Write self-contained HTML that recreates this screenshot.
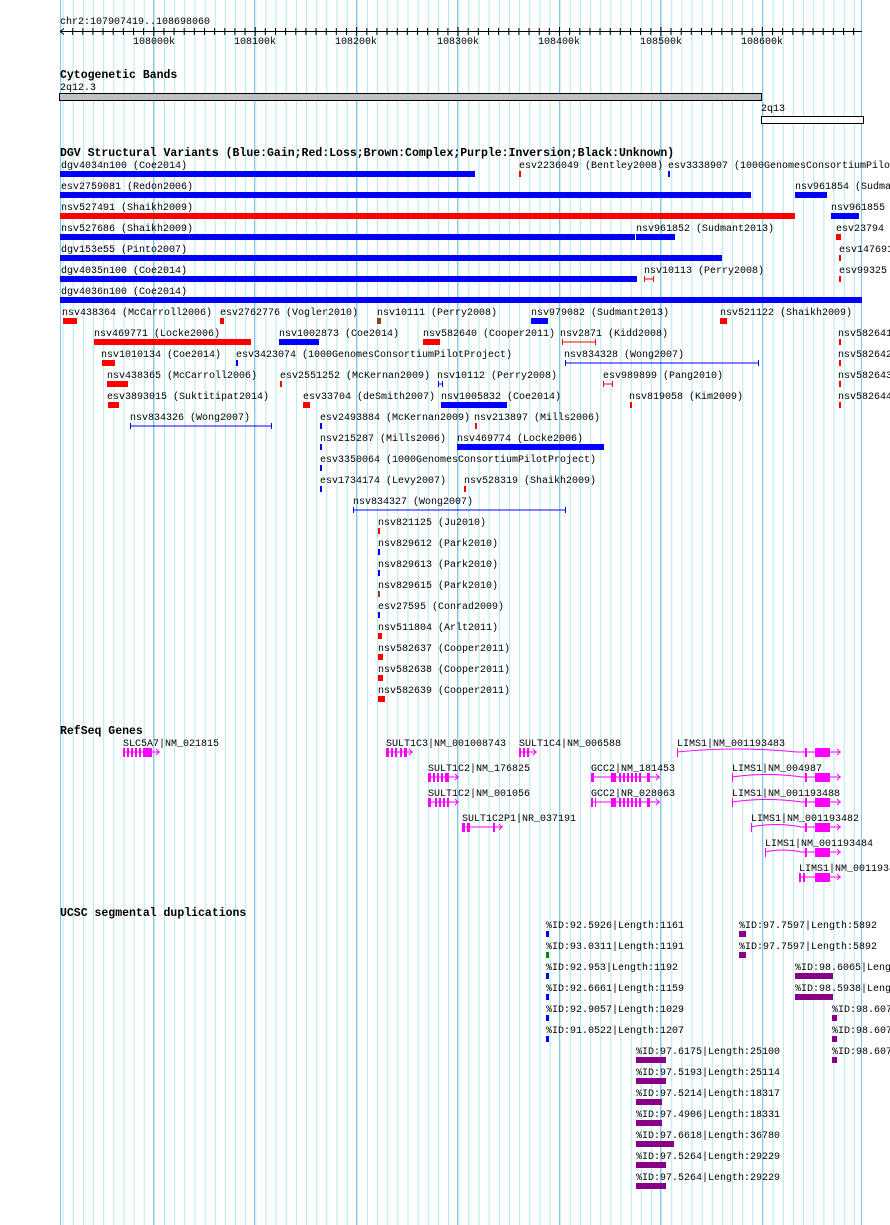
<!DOCTYPE html>
<html><head><meta charset="utf-8"><style>
html,body{margin:0;padding:0;background:#fff;}
svg{display:block;}
text{font-family:"Liberation Mono",monospace;font-size:10px;fill:#000;}
.h{font-weight:bold;font-size:11.5px;}
</style></head><body>
<svg width="890" height="1225" xmlns="http://www.w3.org/2000/svg">
<defs>
<pattern id="g" x="62.6" y="0" width="10.144" height="1225" patternUnits="userSpaceOnUse">
<rect x="0" y="0" width="1" height="1225" fill="#b4e8ee"/>
</pattern>
</defs>
<rect x="60" y="0" width="802" height="1225" fill="url(#g)"/>
<g fill="#8cc6e6">
<rect x="60" y="0" width="1" height="1225"/>
<rect x="153" y="0" width="1" height="1225"/><rect x="254" y="0" width="1" height="1225"/>
<rect x="356" y="0" width="1" height="1225"/><rect x="457" y="0" width="1" height="1225"/>
<rect x="559" y="0" width="1" height="1225"/><rect x="660" y="0" width="1" height="1225"/>
<rect x="762" y="0" width="1" height="1225"/><rect x="861" y="0" width="1" height="1225"/>
</g>
<!-- ruler -->
<text x="60" y="24">chr2:107907419..108698060</text>
<line x1="60" y1="31.5" x2="862" y2="31.5" stroke="#000"/>
<path d="M60 31.5 l4 -3 M60 31.5 l4 3" stroke="#000"/>
<g stroke="#000">
<path d="M72.7 28v7M82.8 28v7M92.9 28v7M103 28v7M113.2 28v7M123.3 28v7M133.5 28v7M143.6 28v7M153.8 27v9M163.9 28v7M174 28v7M184.2 28v7M194.3 28v7M204.5 28v7M214.6 28v7M224.8 28v7M234.9 28v7M245 28v7M255.2 27v9M265.3 28v7M275.5 28v7M285.6 28v7M295.8 28v7M305.9 28v7M316 28v7M326.2 28v7M336.3 28v7M346.5 28v7M356.6 27v9M366.8 28v7M376.9 28v7M387 28v7M397.2 28v7M407.3 28v7M417.5 28v7M427.6 28v7M437.8 28v7M447.9 28v7M458 27v9M468.2 28v7M478.3 28v7M488.5 28v7M498.6 28v7M508.8 28v7M518.9 28v7M529 28v7M539.2 28v7M549.3 28v7M559.5 27v9M569.6 28v7M579.8 28v7M589.9 28v7M600 28v7M610.2 28v7M620.3 28v7M630.5 28v7M640.6 28v7M650.8 28v7M660.9 27v9M671 28v7M681.2 28v7M691.3 28v7M701.5 28v7M711.6 28v7M721.8 28v7M731.9 28v7M742 28v7M752.2 28v7M762.3 27v9M772.5 28v7M782.6 28v7M792.8 28v7M802.9 28v7M813 28v7M823.2 28v7M833.3 28v7M843.5 28v7M853.6 28v7"/>
</g>
<text x="133" y="44">108000k</text><text x="234" y="44">108100k</text><text x="335" y="44">108200k</text>
<text x="437" y="44">108300k</text><text x="538" y="44">108400k</text><text x="640" y="44">108500k</text><text x="741" y="44">108600k</text>
<!-- cytobands -->
<text class="h" x="60" y="78">Cytogenetic Bands</text>
<text x="60" y="90">2q12.3</text>
<rect x="59.5" y="93.5" width="702" height="7" fill="#c0c0c0" stroke="#000"/>
<text x="761" y="111">2q13</text>
<rect x="761.5" y="116.5" width="102" height="7" fill="#fff" stroke="#000"/>
<!-- DGV -->
<text class="h" x="60" y="156">DGV Structural Variants (Blue:Gain;Red:Loss;Brown:Complex;Purple:Inversion;Black:Unknown)</text>
<g>
<text x="61" y="168">dgv4034n100 (Coe2014)</text><rect x="60" y="171" width="415" height="6" fill="#00f"/>
<text x="519" y="168">esv2236049 (Bentley2008)</text><rect x="519" y="171" width="2" height="6" fill="#f00"/>
<text x="668" y="168">esv3338907 (1000GenomesConsortiumPilotProject)</text><rect x="668" y="171" width="2" height="6" fill="#00f"/>

<text x="61" y="189">esv2759081 (Redon2006)</text><rect x="60" y="192" width="691" height="6" fill="#00f"/>
<text x="795" y="189">nsv961854 (Sudmant2013)</text><rect x="795" y="192" width="32" height="6" fill="#00f"/>

<text x="61" y="210">nsv527491 (Shaikh2009)</text><rect x="60" y="213" width="735" height="6" fill="#f00"/>
<text x="831" y="210">nsv961855 (Sudmant2013)</text><rect x="831" y="213" width="28" height="6" fill="#00f"/>

<text x="61" y="231">nsv527686 (Shaikh2009)</text><rect x="60" y="234" width="575" height="6" fill="#00f"/>
<text x="636" y="231">nsv961852 (Sudmant2013)</text><rect x="636" y="234" width="39" height="6" fill="#00f"/>
<text x="836" y="231">esv23794</text><rect x="836" y="234" width="5" height="6" fill="#f00"/>

<text x="61" y="252">dgv153e55 (Pinto2007)</text><rect x="60" y="255" width="662" height="6" fill="#00f"/>
<text x="839" y="252">esv147691</text><rect x="839" y="255" width="2" height="6" fill="#f00"/>

<text x="61" y="273">dgv4035n100 (Coe2014)</text><rect x="60" y="276" width="577" height="6" fill="#00f"/>
<text x="644" y="273">nsv10113 (Perry2008)</text><path d="M644.5 276v6M653.5 276v6M644 279h10" stroke="#f00"/>
<text x="839" y="273">esv99325</text><rect x="839" y="276" width="2" height="6" fill="#f00"/>

<text x="61" y="294">dgv4036n100 (Coe2014)</text><rect x="60" y="297" width="802" height="6" fill="#00f"/>

<text x="62" y="315">nsv438364 (McCarroll2006)</text><rect x="63" y="318" width="14" height="6" fill="#f00"/>
<text x="220" y="315">esv2762776 (Vogler2010)</text><rect x="220" y="318" width="4" height="6" fill="#f00"/>
<text x="377" y="315">nsv10111 (Perry2008)</text><rect x="377" y="318" width="4" height="6" fill="#8b4513"/>
<text x="531" y="315">nsv979082 (Sudmant2013)</text><rect x="531" y="318" width="17" height="6" fill="#00f"/>
<text x="720" y="315">nsv521122 (Shaikh2009)</text><rect x="720" y="318" width="7" height="6" fill="#f00"/>

<text x="94" y="336">nsv469771 (Locke2006)</text><rect x="94" y="339" width="157" height="6" fill="#f00"/>
<text x="279" y="336">nsv1002873 (Coe2014)</text><rect x="279" y="339" width="40" height="6" fill="#00f"/>
<text x="423" y="336">nsv582640 (Cooper2011)</text><rect x="423" y="339" width="17" height="6" fill="#f00"/>
<text x="560" y="336">nsv2871 (Kidd2008)</text><path d="M562.5 339v6M595.5 339v6M562 342h34" stroke="#f00"/>
<text x="838" y="336">nsv582641</text><rect x="839" y="339" width="2" height="6" fill="#f00"/>

<text x="101" y="357">nsv1010134 (Coe2014)</text><rect x="102" y="360" width="13" height="6" fill="#f00"/>
<text x="236" y="357">esv3423074 (1000GenomesConsortiumPilotProject)</text><rect x="236" y="360" width="2" height="6" fill="#00f"/>
<text x="564" y="357">nsv834328 (Wong2007)</text><path d="M565.5 360v6M758.5 360v6M565 363h194" stroke="#00f"/>
<text x="838" y="357">nsv582642</text><rect x="839" y="360" width="2" height="6" fill="#f00"/>

<text x="107" y="378">nsv438365 (McCarroll2006)</text><rect x="107" y="381" width="21" height="6" fill="#f00"/>
<text x="280" y="378">esv2551252 (McKernan2009)</text><rect x="280" y="381" width="2" height="6" fill="#f00"/>
<text x="437" y="378">nsv10112 (Perry2008)</text><path d="M438.5 381v6M442.5 381v6M438 384h5" stroke="#00f"/>
<text x="603" y="378">esv989899 (Pang2010)</text><path d="M603.5 381v6M612.5 381v6M603 384h10" stroke="#f00"/>
<text x="838" y="378">nsv582643</text><rect x="839" y="381" width="2" height="6" fill="#f00"/>

<text x="107" y="399">esv3893015 (Suktitipat2014)</text><rect x="108" y="402" width="11" height="6" fill="#f00"/>
<text x="303" y="399">esv33704 (deSmith2007)</text><rect x="303" y="402" width="7" height="6" fill="#f00"/>
<text x="441" y="399">nsv1005832 (Coe2014)</text><rect x="441" y="402" width="66" height="6" fill="#00f"/>
<text x="629" y="399">nsv819058 (Kim2009)</text><rect x="630" y="402" width="2" height="6" fill="#f00"/>
<text x="838" y="399">nsv582644</text><rect x="839" y="402" width="2" height="6" fill="#f00"/>

<text x="130" y="420">nsv834326 (Wong2007)</text><path d="M130.5 423v6M271.5 423v6M130 426h142" stroke="#00f"/>
<text x="320" y="420">esv2493884 (McKernan2009)</text><rect x="320" y="423" width="2" height="6" fill="#00f"/>
<text x="474" y="420">nsv213897 (Mills2006)</text><rect x="475" y="423" width="2" height="6" fill="#f00"/>

<text x="320" y="441">nsv215287 (Mills2006)</text><rect x="320" y="444" width="2" height="6" fill="#00f"/>
<text x="457" y="441">nsv469774 (Locke2006)</text><rect x="457" y="444" width="147" height="6" fill="#00f"/>

<text x="320" y="462">esv3350064 (1000GenomesConsortiumPilotProject)</text><rect x="320" y="465" width="2" height="6" fill="#00f"/>

<text x="320" y="483">esv1734174 (Levy2007)</text><rect x="320" y="486" width="2" height="6" fill="#00f"/>
<text x="464" y="483">nsv528319 (Shaikh2009)</text><rect x="464" y="486" width="2" height="6" fill="#f00"/>

<text x="353" y="504">nsv834327 (Wong2007)</text><path d="M353.5 507v6M565.5 507v6M353 510h213" stroke="#00f"/>

<text x="378" y="525">nsv821125 (Ju2010)</text><rect x="378" y="528" width="2" height="6" fill="#f00"/>
<text x="378" y="546">nsv829612 (Park2010)</text><rect x="378" y="549" width="2" height="6" fill="#00f"/>
<text x="378" y="567">nsv829613 (Park2010)</text><rect x="378" y="570" width="2" height="6" fill="#00f"/>
<text x="378" y="588">nsv829615 (Park2010)</text><rect x="378" y="591" width="2" height="6" fill="#8b4513"/>
<text x="378" y="609">esv27595 (Conrad2009)</text><rect x="378" y="612" width="2" height="6" fill="#00f"/>
<text x="378" y="630">nsv511804 (Arlt2011)</text><rect x="378" y="633" width="4" height="6" fill="#f00"/>
<text x="378" y="651">nsv582637 (Cooper2011)</text><rect x="378" y="654" width="5" height="6" fill="#f00"/>
<text x="378" y="672">nsv582638 (Cooper2011)</text><rect x="378" y="675" width="5" height="6" fill="#f00"/>
<text x="378" y="693">nsv582639 (Cooper2011)</text><rect x="378" y="696" width="7" height="6" fill="#f00"/>
</g>
<!-- RefSeq -->
<text class="h" x="60" y="734">RefSeq Genes</text>
<g fill="#f0f" stroke="#f0f">
<text x="123" y="746" stroke="none" fill="#000">SLC5A7|NM_021815</text>
<path d="M123 752h37M156 749l3 3l-3 3" fill="none"/><rect x="123" y="748" width="2" height="9" stroke="none"/><rect x="127" y="748" width="2" height="9" stroke="none"/><rect x="131" y="748" width="2" height="9" stroke="none"/><rect x="135" y="748" width="2" height="9" stroke="none"/><rect x="139" y="748" width="2" height="9" stroke="none"/><rect x="143" y="748" width="9" height="9" stroke="none"/>

<text x="386" y="746" stroke="none" fill="#000">SULT1C3|NM_001008743</text>
<path d="M386 752h27M409 749l3 3l-3 3" fill="none"/><rect x="386" y="748" width="3" height="9" stroke="none"/><rect x="391" y="748" width="2" height="9" stroke="none"/><rect x="395" y="748" width="2" height="9" stroke="none"/><rect x="400" y="748" width="2" height="9" stroke="none"/><rect x="404" y="748" width="3" height="9" stroke="none"/>

<text x="519" y="746" stroke="none" fill="#000">SULT1C4|NM_006588</text>
<path d="M519 752h18M533 749l3 3l-3 3" fill="none"/><rect x="519" y="748" width="2" height="9" stroke="none"/><rect x="523" y="748" width="2" height="9" stroke="none"/><rect x="527" y="748" width="2" height="9" stroke="none"/>

<text x="677" y="746" stroke="none" fill="#000">LIMS1|NM_001193483</text>
<path d="M677 752q60 -6 120 0h44M837 749l3 3l-3 3" fill="none"/><rect x="677" y="748" width="1" height="9" stroke="none"/><rect x="805" y="748" width="2" height="9" stroke="none"/><rect x="815" y="748" width="15" height="9" stroke="none"/>

<text x="428" y="771" stroke="none" fill="#000">SULT1C2|NM_176825</text>
<path d="M428 777h31M455 774l3 3l-3 3" fill="none"/><rect x="428" y="773" width="3" height="9" stroke="none"/><rect x="433" y="773" width="2" height="9" stroke="none"/><rect x="437" y="773" width="2" height="9" stroke="none"/><rect x="441" y="773" width="2" height="9" stroke="none"/><rect x="445" y="773" width="4" height="9" stroke="none"/>

<text x="591" y="771" stroke="none" fill="#000">GCC2|NM_181453</text>
<path d="M591 777h69M656 774l3 3l-3 3" fill="none"/><rect x="591" y="773" width="3" height="9" stroke="none"/><rect x="611" y="773" width="5" height="9" stroke="none"/><rect x="619" y="773" width="2" height="9" stroke="none"/><rect x="623" y="773" width="2" height="9" stroke="none"/><rect x="627" y="773" width="2" height="9" stroke="none"/><rect x="631" y="773" width="2" height="9" stroke="none"/><rect x="635" y="773" width="2" height="9" stroke="none"/><rect x="639" y="773" width="2" height="9" stroke="none"/><rect x="647" y="773" width="3" height="9" stroke="none"/>

<text x="732" y="771" stroke="none" fill="#000">LIMS1|NM_004987</text>
<path d="M732 777q35 -5 70 0h39M837 774l3 3l-3 3" fill="none"/><rect x="732" y="773" width="1" height="9" stroke="none"/><rect x="805" y="773" width="2" height="9" stroke="none"/><rect x="815" y="773" width="15" height="9" stroke="none"/>

<text x="428" y="796" stroke="none" fill="#000">SULT1C2|NM_001056</text>
<path d="M428 802h31M455 799l3 3l-3 3" fill="none"/><rect x="428" y="798" width="3" height="9" stroke="none"/><rect x="435" y="798" width="2" height="9" stroke="none"/><rect x="439" y="798" width="2" height="9" stroke="none"/><rect x="443" y="798" width="2" height="9" stroke="none"/><rect x="447" y="798" width="2" height="9" stroke="none"/>

<text x="591" y="796" stroke="none" fill="#000">GCC2|NR_028063</text>
<path d="M591 802h69M656 799l3 3l-3 3" fill="none"/><rect x="591" y="798" width="2" height="9" stroke="none"/><rect x="595" y="798" width="1" height="9" stroke="none"/><rect x="611" y="798" width="5" height="9" stroke="none"/><rect x="619" y="798" width="2" height="9" stroke="none"/><rect x="623" y="798" width="2" height="9" stroke="none"/><rect x="627" y="798" width="2" height="9" stroke="none"/><rect x="631" y="798" width="2" height="9" stroke="none"/><rect x="635" y="798" width="2" height="9" stroke="none"/><rect x="639" y="798" width="2" height="9" stroke="none"/><rect x="647" y="798" width="3" height="9" stroke="none"/>

<text x="732" y="796" stroke="none" fill="#000">LIMS1|NM_001193488</text>
<path d="M732 802q35 -5 70 0h39M837 799l3 3l-3 3" fill="none"/><rect x="732" y="798" width="1" height="9" stroke="none"/><rect x="805" y="798" width="2" height="9" stroke="none"/><rect x="815" y="798" width="15" height="9" stroke="none"/>

<text x="462" y="821" stroke="none" fill="#000">SULT1C2P1|NR_037191</text>
<path d="M462 827h41M499 824l3 3l-3 3" fill="none"/><rect x="462" y="823" width="3" height="9" stroke="none"/><rect x="467" y="823" width="3" height="9" stroke="none"/><rect x="493" y="823" width="2" height="9" stroke="none"/>

<text x="751" y="821" stroke="none" fill="#000">LIMS1|NM_001193482</text>
<path d="M751 827q25 -5 50 0h40M837 824l3 3l-3 3" fill="none"/><rect x="751" y="823" width="1" height="9" stroke="none"/><rect x="805" y="823" width="2" height="9" stroke="none"/><rect x="815" y="823" width="15" height="9" stroke="none"/>

<text x="765" y="846" stroke="none" fill="#000">LIMS1|NM_001193484</text>
<path d="M765 852q18 -4 36 0h40M837 849l3 3l-3 3" fill="none"/><rect x="765" y="848" width="1" height="9" stroke="none"/><rect x="805" y="848" width="2" height="9" stroke="none"/><rect x="815" y="848" width="15" height="9" stroke="none"/>

<text x="799" y="871" stroke="none" fill="#000">LIMS1|NM_001193486</text>
<path d="M799 877h42M837 874l3 3l-3 3" fill="none"/><rect x="799" y="873" width="2" height="9" stroke="none"/><rect x="803" y="873" width="2" height="9" stroke="none"/><rect x="815" y="873" width="15" height="9" stroke="none"/>
</g>
<!-- segdups -->
<text class="h" x="60" y="916">UCSC segmental duplications</text>
<g>
<text x="546" y="928">%ID:92.5926|Length:1161</text><rect x="546" y="931" width="3" height="6" fill="#00f"/>
<text x="546" y="949">%ID:93.0311|Length:1191</text><rect x="546" y="952" width="3" height="6" fill="#080"/>
<text x="546" y="970">%ID:92.953|Length:1192</text><rect x="546" y="973" width="3" height="6" fill="#00f"/>
<text x="546" y="991">%ID:92.6661|Length:1159</text><rect x="546" y="994" width="3" height="6" fill="#00f"/>
<text x="546" y="1012">%ID:92.9057|Length:1029</text><rect x="546" y="1015" width="3" height="6" fill="#00f"/>
<text x="546" y="1033">%ID:91.0522|Length:1207</text><rect x="546" y="1036" width="3" height="6" fill="#00f"/>
<text x="739" y="928">%ID:97.7597|Length:5892</text><rect x="739" y="931" width="7" height="6" fill="#808"/>
<text x="739" y="949">%ID:97.7597|Length:5892</text><rect x="739" y="952" width="7" height="6" fill="#808"/>
<text x="795" y="970">%ID:98.6065|Length:19770</text><rect x="795" y="973" width="38" height="6" fill="#808"/>
<text x="795" y="991">%ID:98.5938|Length:19770</text><rect x="795" y="994" width="38" height="6" fill="#808"/>
<text x="832" y="1012">%ID:98.607</text><rect x="832" y="1015" width="5" height="6" fill="#808"/>
<text x="832" y="1033">%ID:98.607</text><rect x="832" y="1036" width="5" height="6" fill="#808"/>
<text x="832" y="1054">%ID:98.607</text><rect x="832" y="1057" width="5" height="6" fill="#808"/>
<text x="636" y="1054">%ID:97.6175|Length:25100</text><rect x="636" y="1057" width="30" height="6" fill="#808"/>
<text x="636" y="1075">%ID:97.5193|Length:25114</text><rect x="636" y="1078" width="30" height="6" fill="#808"/>
<text x="636" y="1096">%ID:97.5214|Length:18317</text><rect x="636" y="1099" width="26" height="6" fill="#808"/>
<text x="636" y="1117">%ID:97.4906|Length:18331</text><rect x="636" y="1120" width="26" height="6" fill="#808"/>
<text x="636" y="1138">%ID:97.6618|Length:36780</text><rect x="636" y="1141" width="38" height="6" fill="#808"/>
<text x="636" y="1159">%ID:97.5264|Length:29229</text><rect x="636" y="1162" width="30" height="6" fill="#808"/>
<text x="636" y="1180">%ID:97.5264|Length:29229</text><rect x="636" y="1183" width="30" height="6" fill="#808"/>
</g>
</svg>
</body></html>
